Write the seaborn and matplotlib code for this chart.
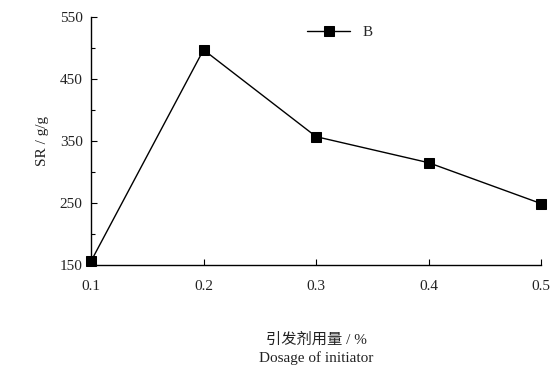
import matplotlib
matplotlib.use("Agg")
import matplotlib.pyplot as plt
import seaborn as sns
import pandas as pd
from matplotlib.ticker import MultipleLocator

dosage = [0.1, 0.2, 0.3, 0.4, 0.5]
sr = [156, 497, 357, 315, 249]
series_name = "B"
xtick_labels = ["0.1", "0.2", "0.3", "0.4", "0.5"]
ytick_vals = [150, 250, 350, 450, 550]

sns.set_theme(style="ticks")
plt.rcParams['font.family'] = ['Liberation Serif', 'Noto Sans CJK SC', 'DejaVu Sans']

df = pd.DataFrame({"dosage": dosage, "SR": sr, "series": series_name})

fig = plt.figure(figsize=(5.58, 3.76), dpi=100)
ax = fig.add_axes([0.163, 0.295, 0.807, 0.66])
sns.lineplot(data=df, x="dosage", y="SR", hue="series", palette=["black"],
             marker="s", markersize=6.5, markeredgecolor="black", linewidth=1.0,
             ax=ax, clip_on=False, zorder=5)

ax.set_xlim(0.1, 0.5)
ax.set_ylim(150, 550)
ax.set_xticks(dosage)
ax.set_xticklabels(xtick_labels, fontsize=11)
ax.set_yticks(ytick_vals)
ax.set_yticklabels([str(v) for v in ytick_vals], fontsize=11)
ax.yaxis.set_minor_locator(MultipleLocator(50))
ax.tick_params(axis="both", which="both", direction="in", color="black", labelcolor="#222222")
ax.tick_params(axis="both", which="major", length=4, width=0.8)
ax.tick_params(axis="y", which="minor", length=3, width=0.8)
ax.tick_params(axis="x", which="major", pad=11)
ax.tick_params(axis="y", which="major", pad=6)
for s in ["top", "right"]:
    ax.spines[s].set_visible(False)
for s in ["left", "bottom"]:
    ax.spines[s].set_color("black")
    ax.spines[s].set_linewidth(1.0)

ax.set_ylabel("SR / g/g", fontsize=11, color="#222222", labelpad=8)
ax.set_xlabel("引发剂用量 / %\nDosage of initiator", fontsize=11, color="#222222",
              labelpad=28, linespacing=1.45)

leg = ax.legend(loc="upper left", bbox_to_anchor=(0.45, 1.02), frameon=False,
                fontsize=11, handlelength=2.8)

fig.savefig("out.png", dpi=100)
